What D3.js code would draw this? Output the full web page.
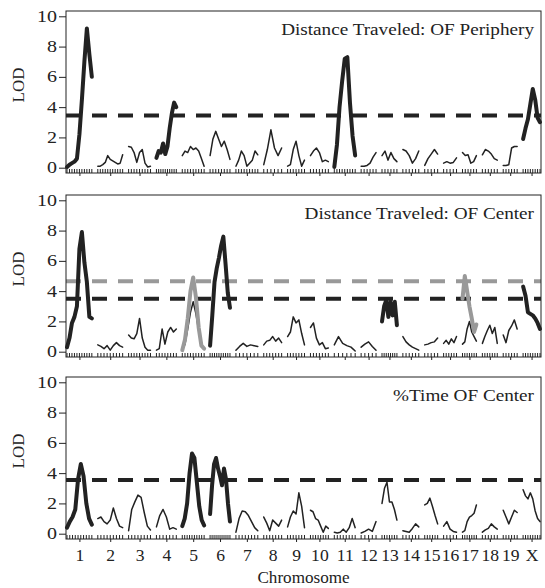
<!DOCTYPE html>
<html>
<head>
<meta charset="utf-8">
<script src="https://cdn.jsdelivr.net/npm/d3@7"></script>
<style>
  body { margin: 0; background: #fff; }
  svg text { font-family: "Liberation Serif", "Times New Roman", Times, serif; fill: #222; }
</style>
</head>
<body>
<svg id="chart" width="545" height="588"></svg>
<script>
// chromosomes and their lengths (cM)
const chrNames = ["1","2","3","4","5","6","7","8","9","10","11","12","13","14","15","16","17","18","19","X"];
const chrLengths = [100,100,88,80,88,80,88,72,68,72,84,60,60,64,52,52,56,60,56,68];
const chrGap = 24;

// LOD profiles, one array per chromosome (values evenly spaced along the chromosome)
const periLod = [
  [0.05,0.2,0.3,0.4,0.6,2.2,4.5,7.0,9.2,7.5,6.0],
  [0.1,0.1,0.2,0.35,0.8,0.55,0.45,0.35,0.25,0.3,0.85],
  [1.4,1.35,1.0,0.35,1.0,1.2,0.3,0.05,0.1],
  [0.65,1.1,1.0,1.6,0.9,1.4,2.6,3.6,4.3,4.0],
  [0.8,1.1,1.0,1.4,1.2,1.3,1.1,0.6,0.1],
  [0.8,1.9,2.4,1.9,1.4,1.75,1.2,0.55],
  [0.1,0.5,1.1,0.8,0.1,0.3,0.5,1.1,0.85],
  [0.2,1.2,2.5,1.3,0.8,1.3],
  [0.1,0.2,1.2,1.75,0.8,0.1,0.5],
  [0.8,1.1,1.3,1.0,0.4,0.5,0.4],
  [0.05,1.5,4.0,5.7,7.2,7.3,4.3,2.1,0.8],
  [0.1,0.1,0.15,0.3,0.7,1.0],
  [0.8,1.1,0.5,1.0,0.6,0.4],
  [1.2,1.1,0.8,0.3,0.6,1.1],
  [0.15,0.6,0.9,1.2,0.9],
  [0.3,0.4,0.3,0.35,0.65],
  [1.0,0.8,0.85,0.3,0.4,0.8],
  [0.85,1.2,1.1,0.9,0.6,0.5],
  [0.15,0.15,0.2,1.3,1.4,1.4],
  [1.9,2.6,3.2,4.2,5.2,4.5,3.3,3.0]
];
const centerLod = [
  [0.3,0.9,1.9,2.3,3.0,6.8,7.9,5.9,4.6,2.3,2.2],
  [0.45,0.35,0.2,0.4,0.1,0.4,0.6,0.4,0.3],
  [1.1,0.9,0.85,1.2,2.2,0.9,0.3,0.1,0.1],
  [0.1,0.2,1.5,0.5,1.3,1.6,1.3,1.5],
  [0.1,0.5,1.5,2.6,3.3,2.5,1.4,0.5,0.2],
  [0.4,2.4,4.6,5.5,6.2,7.0,7.6,5.8,3.9,2.9],
  [0.1,0.35,0.55,0.35,0.45,0.4,0.35],
  [0.45,0.7,0.75,1.0,0.7,0.9,0.6],
  [1.0,1.3,2.3,1.9,2.1,1.2,0.45],
  [1.6,1.9,0.9,0.45,0.6,0.2,0.25],
  [0.45,1.0,0.55,0.4,0.3,0.05],
  [0.3,0.5,0.65,0.35,0.1],
  [2.0,3.0,3.4,2.3,3.3,2.4,3.3,1.75],
  [1.0,0.65,0.45,0.3,0.2,0.1],
  [0.45,0.5,0.6,0.65,0.9],
  [0.55,0.75,0.5,0.85,0.6,1.0],
  [0.5,0.65,1.5,2.0,1.3,1.0,0.7],
  [0.55,1.0,1.4,1.75,1.2,1.6,0.55],
  [1.1,0.6,1.4,1.7,2.1,1.5],
  [4.3,3.7,2.6,2.5,2.4,2.2,1.9,1.5]
];
// second trait in panel 2 (grey), only chromosomes that reach significance
const centerGrayChr = ["5","17"];
const centerGrayLod = [
  [0.1,0.8,2.2,4.0,4.9,3.6,1.6,0.4,0.2],
  [3.5,5.0,4.0,3.0,2.2,1.3,1.8]
];
const timeLod = [
  [0.4,0.8,1.1,1.6,3.6,4.6,3.8,2.0,1.0,0.6],
  [1.0,1.1,0.8,0.65,0.9,1.7,1.0,0.5,0.4],
  [0.2,1.6,2.1,2.55,2.4,1.4,0.5,0.25],
  [0.45,1.2,1.6,1.1,0.3,0.4,0.3],
  [0.5,1.0,2.0,4.0,5.3,5.0,3.4,1.8,0.9,0.55],
  [1.3,3.2,4.6,5.0,4.3,3.8,3.2,4.3,3.6,2.0,0.8],
  [0.1,1.0,1.5,1.45,1.2,0.8,0.4,0.2],
  [1.1,0.7,0.2,0.9,0.7,0.5,0.9],
  [0.45,1.1,1.5,1.3,2.7,1.8,0.4],
  [1.55,1.45,1.0,0.9,0.5,0.1,0.5,0.35],
  [0.1,0.05,0.1,0.3,0.1,0.4,1.0,0.4],
  [0.05,0.15,0.3,0.15,0.8],
  [2.0,3.0,3.4,2.1,2.1,1.6,0.9],
  [0.2,0.15,0.1,0.35,0.65,0.45],
  [1.9,2.0,2.35,1.8,1.2,0.65],
  [0.5,0.8,0.3,0.15,0.1],
  [0.1,0.2,0.8,1.1,1.2,1.35,1.9],
  [0.1,0.25,0.35,0.65,0.45,0.3],
  [1.55,1.1,0.65,1.1,1.55,1.4],
  [2.9,2.5,2.3,2.7,2.3,1.5,1.0,0.8]
];

const panelTitles = ["Distance Traveled: OF Periphery", "Distance Traveled: OF Center", "%Time OF Center"];
const panelBold = [["1","4","11","X"], ["1","6","13","X"], ["1","5","6"]];
const panelThresh = [[3.45], [4.65, 3.5], [3.55]];
const yTicks = [0, 2, 4, 6, 8, 10];

const black = "#222", grey = "#999";
const serif = "'Liberation Serif', 'Times New Roman', Times, serif";
const stretch = 1.25; // the original figure is a little wider than tall
const svg = d3.select("#chart");
const left = 66, right = 541;
const tops = [11, 195, 377], ph = 162;

// cumulative chromosome starts
const chrStart = [];
let acc = 0;
chrLengths.forEach((l, i) => { chrStart.push(acc); acc += l + (i < chrLengths.length - 1 ? chrGap : 0); });
const x = d3.scaleLinear().domain([0, acc]).range([left + 1, right - 1]);
const chrMid = chrNames.map((c, i) => chrStart[i] + chrLengths[i] / 2);

function points(ci, vals) {
  return vals.map((v, j) => [chrStart[ci] + j / (vals.length - 1) * chrLengths[ci], v]);
}

const panels = [
  { lod: periLod, gray: null },
  { lod: centerLod, gray: { chr: centerGrayChr, lod: centerGrayLod } },
  { lod: timeLod, gray: null }
];

panels.forEach((p, k) => {
  const top = tops[k];
  const y = d3.scaleLinear().domain([-0.35, 10.35]).range([top + ph, top]);
  const g = svg.append("g");
  const line = d3.line().x(d => x(d[0])).y(d => y(d[1]));

  // threshold lines
  panelThresh[k].forEach((t, ti) => {
    g.append("line")
      .attr("x1", left).attr("x2", right)
      .attr("y1", y(t)).attr("y2", y(t))
      .attr("stroke", panelThresh[k].length > 1 && ti === 0 ? grey : black)
      .attr("stroke-width", 4)
      .attr("stroke-dasharray", "15,11");
  });

  // black LOD curves
  p.lod.forEach((vals, ci) => {
    const bold = panelBold[k].includes(chrNames[ci]);
    g.append("path")
      .attr("d", line(points(ci, vals)))
      .attr("fill", "none")
      .attr("stroke", black)
      .attr("stroke-width", bold ? 4 : 1.5)
      .attr("stroke-linejoin", "round")
      .attr("stroke-linecap", "round");
    // marker rug
    g.selectAll(null).data(points(ci, vals)).enter().append("line")
      .attr("x1", d => x(d[0])).attr("x2", d => x(d[0]))
      .attr("y1", top + ph).attr("y2", top + ph - 4)
      .attr("stroke", black).attr("stroke-width", 1);
  });

  // grey curves
  if (p.gray) {
    p.gray.chr.forEach((c, gi) => {
      const ci = chrNames.indexOf(c);
      g.append("path")
        .attr("d", line(points(ci, p.gray.lod[gi])))
        .attr("fill", "none")
        .attr("stroke", grey)
        .attr("stroke-width", 4)
        .attr("stroke-linejoin", "round")
        .attr("stroke-linecap", "round");
    });
  }

  // box
  g.append("rect")
    .attr("x", left).attr("y", top)
    .attr("width", right - left).attr("height", ph)
    .attr("fill", "none").attr("stroke", black).attr("stroke-width", 1);

  // y axis
  const ya = g.append("g").attr("transform", `translate(${left},0)`)
    .attr("font-family", serif)
    .call(d3.axisLeft(y).tickValues(yTicks).tickSize(7).tickPadding(2));
  ya.select(".domain").remove();
  ya.selectAll("line").attr("stroke", black);
  ya.selectAll("text").attr("font-size", 16).attr("fill", black)
    .attr("x", -9 / stretch)
    .attr("transform", `scale(${stretch},1)`);

  // chromosome ticks
  const xa = g.append("g").attr("transform", `translate(0,${top + ph})`)
    .attr("font-family", serif)
    .call(d3.axisBottom(x).tickValues(chrMid).tickSize(3)
      .tickFormat((d, i) => k === 2 ? chrNames[i] : ""));
  xa.select(".domain").remove();
  xa.selectAll("line").attr("stroke", black);
  xa.selectAll("text").attr("font-size", 16).attr("fill", black)
    .attr("y", 11).attr("dy", "0.71em")
    .attr("transform", "scale(1.1,1)");

  // LOD label
  g.append("text")
    .attr("transform", `translate(24,${y(5) - 7}) rotate(-90)`)
    .attr("text-anchor", "middle")
    .attr("font-size", 17)
    .text("LOD");

  // title
  g.append("text")
    .attr("transform", `translate(${right - 7},${top + 24}) scale(${stretch * 0.93},1)`)
    .attr("text-anchor", "end")
    .attr("font-size", 16.5)
    .text(panelTitles[k]);
});

svg.append("text")
  .attr("transform", `translate(${(left + right) / 2},583) scale(1.07,1)`)
  .attr("text-anchor", "middle")
  .attr("font-size", 16)
  .text("Chromosome");
</script>
</body>
</html>
